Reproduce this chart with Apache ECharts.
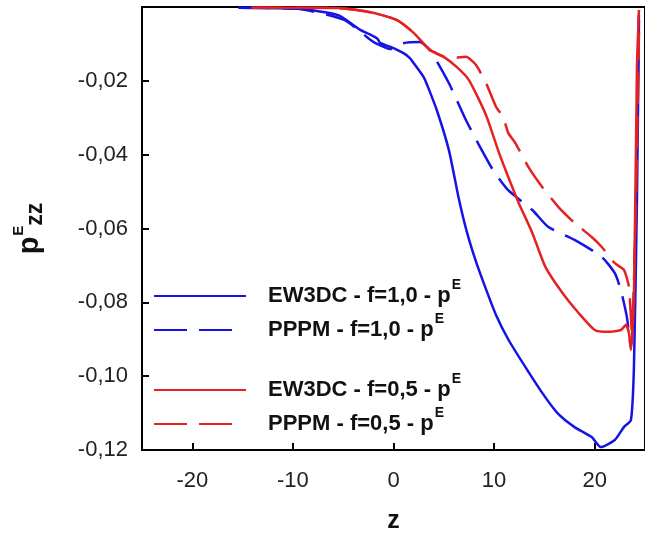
<!DOCTYPE html>
<html>
<head>
<meta charset="utf-8">
<script src="https://cdn.jsdelivr.net/npm/echarts@6/dist/echarts.min.js"></script>
<style>
html,body{margin:0;padding:0;background:#fff;}
#chart{width:645px;height:539px;}
</style>
</head>
<body>
<div id="chart"></div>
<script>
// ---- data ----
const xTicks = [-20, -10, 0, 10, 20];
const yTicks = [-0.12, -0.10, -0.08, -0.06, -0.04, -0.02];

const seriesNames = ['EW3DC - f=1,0 - p', 'PPPM - f=1,0 - p', 'EW3DC - f=0,5 - p', 'PPPM - f=0,5 - p'];

const zBlueSolid = [-15.4, -9.5, -5.5, -3.3, -2.3, -1.6, -1.3, -0.3, 1.0, 1.6, 2.0, 3.0, 3.4, 4.3, 5.5, 6.5, 7.3, 8.2, 9.2, 10.2, 11.4, 13.1, 14.8, 16.3, 18.0, 19.7, 20.6, 22.0, 22.9, 23.6, 23.9, 24.2, 24.4];
const vBlueSolid = [-0.0002, -0.0005, -0.0022, -0.0062, -0.0075, -0.0086, -0.0098, -0.0108, -0.0125, -0.0138, -0.0152, -0.019, -0.0215, -0.0279, -0.0387, -0.052, -0.061, -0.069, -0.0765, -0.0835, -0.090, -0.0975, -0.1046, -0.110, -0.1138, -0.1165, -0.1192, -0.1173, -0.1138, -0.1119, -0.0975, -0.0523, -0.0035];

const zBlueDash = [-15.4, -9.5, -4.9, -2.3, -1.8, -0.3, 1.0, 2.6, 3.6, 5.5, 7.2, 8.5, 9.9, 11.4, 13.8, 15.4, 18.0, 20.7, 22.0, 22.6, 23.2, 23.6, 23.9, 24.2, 24.4];
const vBlueDash = [-0.0002, -0.0005, -0.0035, -0.0089, -0.0098, -0.0114, -0.0098, -0.0095, -0.0116, -0.0206, -0.0306, -0.0374, -0.0442, -0.0496, -0.055, -0.0596, -0.0631, -0.0677, -0.0721, -0.0767, -0.084, -0.0921, -0.0794, -0.0341, -0.0008];

const zRedSolid = [-14.1, -9.5, -5.5, -2.3, 0.3, 2.0, 3.6, 5.0, 6.3, 7.5, 9.2, 10.5, 11.4, 12.4, 13.8, 15.1, 16.8, 18.4, 20.0, 21.3, 22.6, 23.1, 23.4, 23.6, 23.9, 24.2, 24.4];
const vRedSolid = [-0.0002, -0.0002, -0.0003, -0.0014, -0.0035, -0.007, -0.0116, -0.0135, -0.0163, -0.0198, -0.0293, -0.0396, -0.046, -0.0528, -0.0612, -0.0704, -0.0775, -0.0829, -0.0875, -0.088, -0.0875, -0.0861, -0.0883, -0.0929, -0.0794, -0.0163, -0.0008];

const zRedDash = [-14.1, -9.5, -5.5, -2.3, 0.3, 2.0, 3.6, 5.0, 5.9, 7.2, 8.2, 9.2, 10.2, 10.9, 11.4, 12.1, 13.4, 14.8, 16.4, 18.0, 19.7, 20.7, 22.0, 22.9, 23.4, 23.7, 24.1, 24.4];
const vRedDash = [-0.0002, -0.0002, -0.0003, -0.0014, -0.0035, -0.007, -0.0116, -0.0135, -0.0138, -0.0135, -0.0157, -0.0206, -0.0271, -0.0298, -0.0341, -0.0368, -0.0433, -0.0488, -0.0542, -0.0585, -0.0623, -0.065, -0.0694, -0.0712, -0.0758, -0.0883, -0.0523, -0.007];

const BLUE = '#1414e6';
const RED = '#e42222';

function pairs(xs, ys) { return xs.map((x, i) => [x, ys[i]]); }

const legendRich = {
  n: { fontFamily: 'Liberation Sans, Arial, sans-serif', fontWeight: 'bold', fontSize: 22, color: '#111', padding: [0, 0, 0, 17] },
  s: { fontFamily: 'Liberation Sans, Arial, sans-serif', fontWeight: 'bold', fontSize: 14, color: '#111', padding: [0, 0, 22, 1] }
};
function mkLegend(name, top, dashed) {
  const lg = {
    data: [name],
    left: 153,
    top: top,
    padding: 0,
    itemWidth: 92,
    itemHeight: 14,
    selectedMode: false,
    itemStyle: { opacity: 0 },
    formatter: function (n) { return '{n|' + n + '}{s|E}'; },
    textStyle: { rich: legendRich }
  };
  if (dashed) { lg.lineStyle = { type: [33, 12, 33, 100] }; }
  return lg;
}

const chart = echarts.init(document.getElementById('chart'), null, { renderer: 'canvas' });
const labelFont = 'Liberation Sans, Arial, sans-serif';
chart.setOption({
  animation: false,
  backgroundColor: '#fff',
  grid: { left: 142, top: 7, width: 510, height: 443, show: true, borderColor: '#000', borderWidth: 2, backgroundColor: 'transparent' },
  legend: [
    mkLegend(seriesNames[0], 278, false),
    mkLegend(seriesNames[1], 312, true),
    mkLegend(seriesNames[2], 372, false),
    mkLegend(seriesNames[3], 406, true)
  ],
  xAxis: {
    type: 'value', min: -25, max: 25,
    name: 'z', nameLocation: 'middle', nameGap: 59,
    nameTextStyle: { fontFamily: labelFont, fontWeight: 'bold', fontSize: 25, color: '#111' },
    axisLine: { show: true, onZero: false, lineStyle: { color: '#000', width: 2 } },
    axisTick: { show: true, inside: true, length: 7, lineStyle: { color: '#000', width: 2 }, customValues: xTicks },
    axisLabel: { customValues: xTicks, margin: 20, fontFamily: labelFont, fontSize: 22, color: '#222' },
    splitLine: { show: false }
  },
  yAxis: {
    type: 'value', min: -0.12, max: 0,
    name: '{p|p}{e|E}{z|zz}', nameLocation: 'middle', nameRotate: 90, nameGap: 94,
    nameTextStyle: {
      rich: {
        p: { fontFamily: labelFont, fontWeight: 'bold', fontSize: 29, color: '#111' },
        e: { fontFamily: labelFont, fontWeight: 'bold', fontSize: 15, color: '#111', padding: [0, 0, 22, 1] },
        z: { fontFamily: labelFont, fontWeight: 'bold', fontSize: 23, color: '#111', padding: [12, 0, 0, 0] }
      }
    },
    axisLine: { show: true, onZero: false, lineStyle: { color: '#000', width: 2 } },
    axisTick: { show: true, inside: true, length: 7, lineStyle: { color: '#000', width: 2 }, customValues: yTicks.slice(1) },
    axisLabel: { customValues: yTicks, margin: 14, fontFamily: labelFont, fontSize: 22, color: '#222',
      formatter: function (v) { return v.toFixed(2).replace('.', ','); } },
    splitLine: { show: false }
  },
  series: [
    { name: seriesNames[0], type: 'line', data: pairs(zBlueSolid, vBlueSolid), symbol: 'none', smooth: 0.2, lineStyle: { color: BLUE, width: 2.5 }, itemStyle: { color: BLUE } },
    { name: seriesNames[1], type: 'line', data: pairs(zBlueDash, vBlueDash), symbol: 'none', smooth: 0.2, lineStyle: { color: BLUE, width: 2.5, type: [32, 12] }, itemStyle: { color: BLUE } },
    { name: seriesNames[2], type: 'line', data: pairs(zRedSolid, vRedSolid), symbol: 'none', smooth: 0.2, lineStyle: { color: RED, width: 2.5 }, itemStyle: { color: RED } },
    { name: seriesNames[3], type: 'line', data: pairs(zRedDash, vRedDash), symbol: 'none', smooth: 0.2, lineStyle: { color: RED, width: 2.5, type: [32, 12] }, itemStyle: { color: RED } }
  ]
});
</script>
</body>
</html>
